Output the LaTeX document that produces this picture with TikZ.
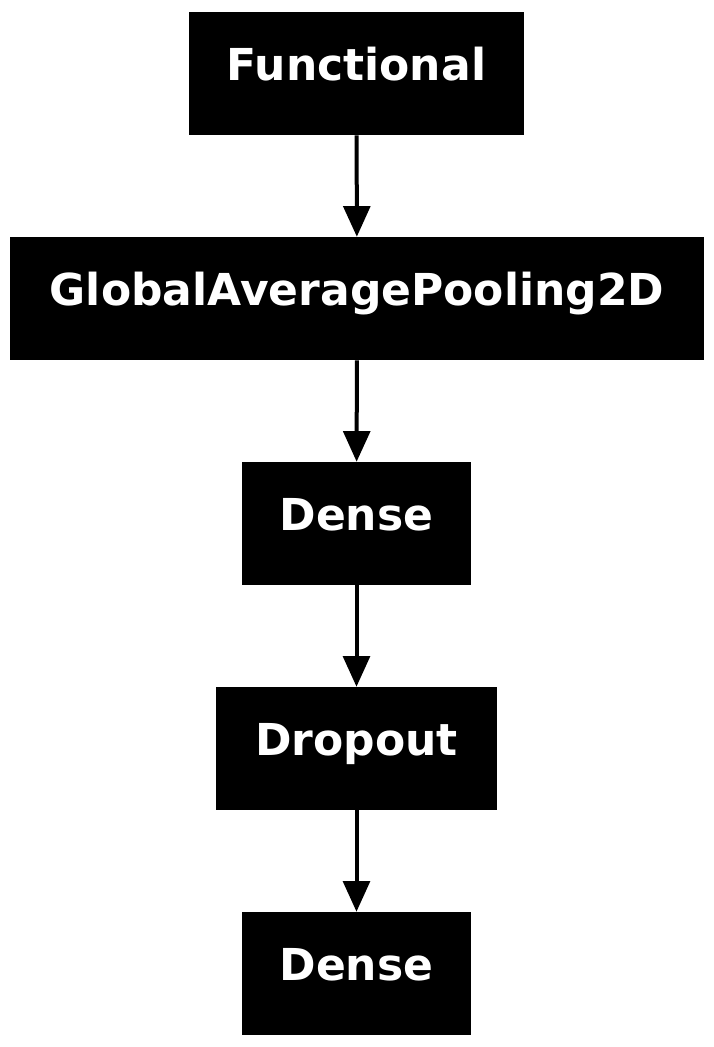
\documentclass[tikz,border=0pt]{standalone}
\usepackage{fontspec}
\setmainfont{DejaVu Sans}
\usetikzlibrary{arrows.meta}

\begin{document}
\begin{tikzpicture}[x=0.75pt, y=-0.75pt,
    layer/.style={fill=black, text=white, inner sep=0pt, minimum height=92.25pt,
        text height=24pt, text depth=14pt,
        font=\bfseries\fontsize{33}{40}\selectfont},
    flow/.style={line width=3pt, -{Triangle[length=23pt, width=20pt]}}]
    \useasboundingbox (0, 0) rectangle (714, 1047);
    % layers of the model
    \node[layer, minimum width=251.25pt] (functional) at (356.5, 73.5) {Functional};
    \node[layer, minimum width=520.5pt] (pooling) at (357, 298.5) {GlobalAveragePooling2D};
    \node[layer, minimum width=171.75pt] (dense) at (356.5, 523.5) {Dense};
    \node[layer, minimum width=210.75pt] (dropout) at (356.5, 748.5) {Dropout};
    \node[layer, minimum width=171.75pt] (output) at (356.5, 973.5) {Dense};
    % connections
    \draw[flow] (functional) -- (pooling);
    \draw[flow] (pooling) -- (dense);
    \draw[flow] (dense) -- (dropout);
    \draw[flow] (dropout) -- (output);
\end{tikzpicture}
\end{document}
